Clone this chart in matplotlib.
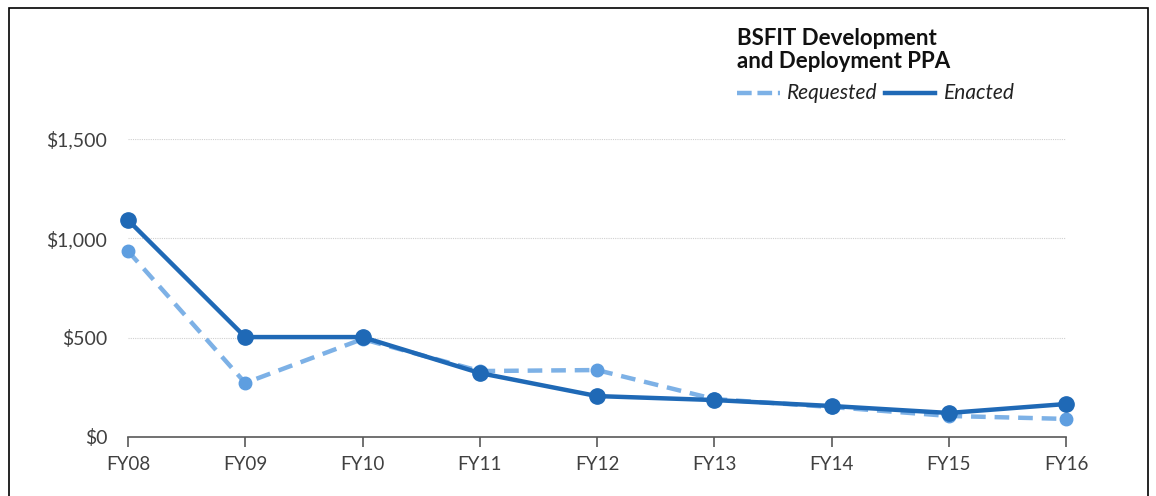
import matplotlib.pyplot as plt
from matplotlib.patches import Rectangle
from matplotlib.lines import Line2D
from matplotlib.ticker import FuncFormatter

plt.rcParams['font.family'] = ['Lato', 'DejaVu Sans']

anios = ['FY08', 'FY09', 'FY10', 'FY11', 'FY12', 'FY13', 'FY14', 'FY15', 'FY16']
solicitado = [936, 272, 493, 332, 337, 191, 151, 106, 91]   # Requested
aprobado = [1092, 503, 503, 322, 206, 186, 156, 121, 166]   # Enacted

col_req = '#7DB1E6'
col_req_mk = '#5E9EE0'
col_enac = '#1F69B6'

fig = plt.figure(figsize=(11.56, 4.96), dpi=100)
ax = fig.add_axes([128/1156, 1-437/496, (1066-128)/1156, (437-139)/496])

x = list(range(len(anios)))
ax.plot(x, solicitado, color=col_req, lw=3.2, ls=(0, (3.3, 2)), marker='o',
        ms=9, mfc=col_req_mk, mec=col_req_mk, clip_on=False, zorder=3)
ax.plot(x, aprobado, color=col_enac, lw=3.2, marker='o', ms=11,
        mfc=col_enac, mec=col_enac, clip_on=False, zorder=4)

ax.set_xlim(0, 8)
ax.set_ylim(0, 1500)
ax.set_yticks([0, 500, 1000, 1500])
ax.yaxis.set_major_formatter(FuncFormatter(lambda v, p: '${:,.0f}'.format(v)))
ax.set_xticks(x)
ax.set_xticklabels(anios)
ax.grid(axis='y', color='#d0d0d0', lw=0.8, ls=(0, (1, 1)))
ax.set_axisbelow(True)
for s in ['top', 'right', 'left']:
    ax.spines[s].set_visible(False)
ax.spines['bottom'].set_color('#595959')
ax.spines['bottom'].set_linewidth(1.2)
ax.tick_params(axis='y', length=0, pad=15, labelsize=14, labelcolor='#404040')
ax.tick_params(axis='x', length=7, width=1.2, color='#595959', pad=7,
               labelsize=13.5, labelcolor='#404040')

# titulo y leyenda
fig.text(737/1156, 1-50/496, 'BSFIT Development\nand Deployment PPA',
         fontsize=16, fontweight='bold', color='#111111', va='center',
         linespacing=1.15)
fig.add_artist(Line2D([737/1156, 780/1156], [1-93/496, 1-93/496],
                      color=col_req, lw=3.2, ls=(0, (3.3, 1.3))))
fig.text(787/1156, 1-93/496, 'Requested', fontsize=15, style='italic',
         color='#222222', va='center')
fig.add_artist(Line2D([885/1156, 935/1156], [1-93/496, 1-93/496],
                      color=col_enac, lw=3.2))
fig.text(944/1156, 1-93/496, 'Enacted', fontsize=15, style='italic',
         color='#222222', va='center')

# marco
fig.add_artist(Rectangle((9/1156, -0.1), (1148-9)/1156, 1.1 - 8/496,
                         fill=False, ec='black', lw=1.2,
                         transform=fig.transFigure))

fig.savefig('out.png', dpi=100)
